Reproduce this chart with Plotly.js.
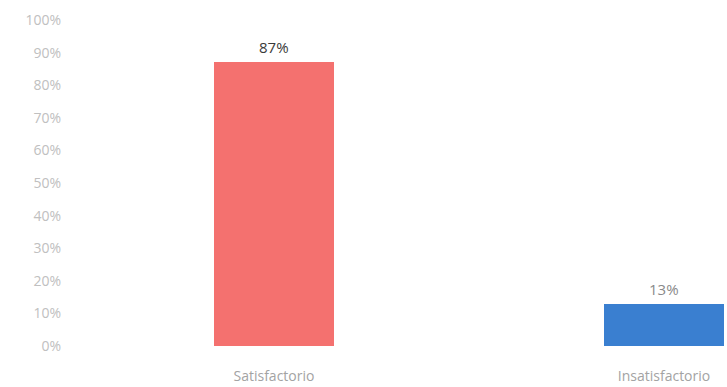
<!DOCTYPE html>
<html>
<head>
<meta charset="utf-8">
<script src="https://cdn.plot.ly/plotly-3.0.1.min.js"></script>
<style>html,body{margin:0;padding:0;background:#fff;}#chart{width:727px;height:387px;}</style>
</head>
<body>
<div id="chart"></div>
<script>
var categories = ["Satisfactorio", "Insatisfactorio"];
var values = [87, 13];
var barColors = ["#F4716F", "#3A7FD0"];
var labelColors = ["#3a3a3a", "#8a8a8a"];
var tickVals = [0, 10, 20, 30, 40, 50, 60, 70, 80, 90, 100];

var trace = {
  type: "bar",
  x: categories,
  y: values,
  marker: {color: barColors},
  width: 0.31,
  hoverinfo: "none",
  cliponaxis: false
};

var annotations = categories.map(function(c, i) {
  return {
    x: c, y: values[i], xref: "x", yref: "y",
    text: values[i] + "%", showarrow: false,
    yanchor: "middle", yshift: 15,
    font: {family: "Open Sans, Liberation Sans, sans-serif", size: 15, color: labelColors[i]}
  };
});

var layout = {
  width: 727, height: 387,
  margin: {l: 70, r: 0, t: 20, b: 41, pad: 0},
  paper_bgcolor: "#ffffff",
  plot_bgcolor: "#ffffff",
  showlegend: false,
  bargap: 0,
  xaxis: {
    type: "category",
    range: [-0.523, 1.1615],
    showgrid: false, zeroline: false, showline: false,
    ticks: "",
    ticklabelstandoff: 20,
    tickfont: {family: "Open Sans, Liberation Sans, sans-serif", size: 14, color: "#a3a3a3"},
    automargin: false
  },
  yaxis: {
    range: [0, 100],
    tickvals: tickVals,
    ticktext: tickVals.map(function(v){return v + "%";}),
    showgrid: false, zeroline: false, showline: false,
    ticks: "",
    ticklabelstandoff: 8,
    tickfont: {family: "Open Sans, Liberation Sans, sans-serif", size: 14, color: "#c0c0c0"},
    automargin: false
  },
  annotations: annotations
};

Plotly.newPlot("chart", [trace], layout, {displayModeBar: false, staticPlot: true});
</script>
</body>
</html>
